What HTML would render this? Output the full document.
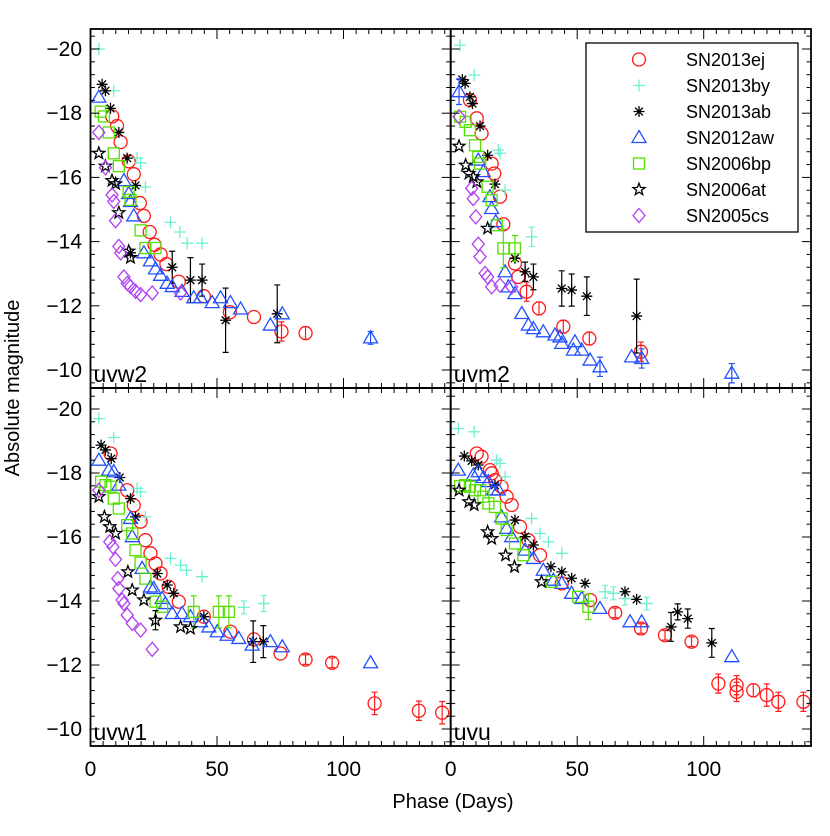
<!DOCTYPE html>
<html><head><meta charset="utf-8"><style>
html,body{margin:0;padding:0;background:#fff;}
svg{display:block;font-family:"Liberation Sans",sans-serif;}
</style></head><body>
<svg id="chart" width="830" height="836" viewBox="0 0 830 836" xmlns="http://www.w3.org/2000/svg"></svg>
<script>
// ---------- data: [phase day, absolute mag, error] ----------
const seriesNames = ["SN2013ej","SN2013by","SN2013ab","SN2012aw","SN2006bp","SN2006at","SN2005cs"];
const panelNames = ["uvw2","uvm2","uvw1","uvu"];
const xTicks = [0,50,100];
const xTickLabels = ["0","50","100"];
const yTicks = [-20,-18,-16,-14,-12,-10];
const yTickLabels = ["\u221220","\u221218","\u221216","\u221214","\u221212","\u221210"];

// uvw2
const w2_13ej = [[8.6,-17.9],[10.5,-17.6],[11.9,-17.1],[15.1,-16.5],[17.1,-16.1],[19.5,-15.2],[21.1,-14.8],[23.4,-14.3],[25.3,-13.9],[27.7,-13.6],[30,-13.3],[34.9,-12.75],[44.8,-12.3],[55.1,-11.8],[64.6,-11.65],[75.5,-11.2,0.3],[85,-11.15,0.2]];
const w2_13by = [[3.3,-20],[9.2,-18.7],[18.4,-16.6],[19.8,-16.45],[21.7,-15.7],[31.6,-14.6],[35.3,-14.3],[38.2,-13.95],[44.1,-13.95]];
const w2_13ab = [[4.6,-18.9],[5.9,-18.7],[7.9,-18.15],[11.2,-17.4],[14.5,-16.6],[17.8,-15.75],[15.8,-13.65],[32.3,-13.2,0.5],[39.5,-12.8,0.7],[44.1,-12.8,0.5],[53.4,-11.55,1.0],[73.8,-11.75,0.9]];
const w2_12aw = [[3.3,-18.5],[13.2,-15.9],[15.1,-15.5],[15.8,-15.25],[17.1,-14.8],[21.1,-13.65],[23.7,-13.4],[25.7,-13.15],[27.7,-12.95],[30.3,-12.7],[32.3,-12.6],[36.2,-12.45],[40.8,-12.25],[43.5,-12.25],[48.1,-12.1],[51.4,-12.25],[55.3,-12.1],[59.3,-11.9],[71.1,-11.4],[75.8,-11.75],[110.7,-11,0.2]];
const w2_06bp = [[4,-18.05],[5.3,-17.9],[7.2,-17.4],[9.2,-16.75],[11.2,-16.35],[15.1,-15.55],[15.8,-15.3],[19.8,-14.35],[21.7,-13.8],[25.7,-13.8]];
const w2_06at = [[3.3,-16.75],[5.9,-16.35],[8.5,-15.9],[9.9,-15.8],[11.2,-14.9],[15.1,-13.7],[15.8,-13.5]];
const w2_05cs = [[3.3,-17.4],[5.9,-16.3],[8.5,-15.45],[9.2,-15.25],[9.9,-14.65],[11.2,-13.85],[11.9,-13.65],[13.2,-12.9],[14.5,-12.7],[15.8,-12.6],[17.8,-12.45],[19.8,-12.35],[24.4,-12.4],[35.6,-12.4]];
// uvm2
const m2_13ej = [[7.6,-18.41],[10.3,-17.84],[12.2,-17.37],[16.2,-16.43],[17.2,-16.12],[19.5,-15.4],[20.8,-14.54],[25.4,-13.32],[26.7,-12.9],[30,-12.44,0.3],[34.9,-11.92,0.2],[44.5,-11.35,0.2],[54.8,-10.98,0.2],[75.2,-10.57,0.3]];
const m2_13by = [[3.7,-20.12],[9.3,-19.19],[18.8,-16.85],[19.5,-16.75],[21.5,-15.6],[32,-14.15,0.3]];
const m2_13ab = [[4.6,-19.05],[5.7,-18.93],[7.6,-18.51],[8.6,-18.3],[11.6,-17.6],[14.6,-16.69],[17.5,-15.79],[25.4,-13.48],[29.4,-13.06,0.3],[32.7,-12.9,0.4],[43.9,-12.54,0.55],[47.8,-12.49,0.5],[53.8,-12.3,0.6],[73.5,-11.68,1.15]];
const m2_12aw = [[3.3,-18.67,0.4],[10.9,-16.54],[12.9,-16.18],[15.5,-15.4],[16.2,-15.03],[17.8,-14.62],[21.5,-13.06],[22.8,-12.59],[25.4,-12.38],[28.1,-11.76],[30.7,-11.4],[32.7,-11.29],[36.6,-11.19],[41.2,-11.09],[43.2,-11.03],[43.9,-10.83],[48.5,-10.62],[49.1,-10.88],[51.8,-10.62],[55.1,-10.31],[59,-10.1,0.3],[71.5,-10.41],[75.5,-10.36,0.3],[111.1,-9.9,0.3]];
const m2_06bp = [[3.7,-17.89],[5.9,-17.73],[7.6,-17.47],[9.6,-17],[10.9,-16.64],[11.6,-16.43],[14.6,-15.71],[16.2,-15.29],[18.2,-14.51],[20.8,-13.79,0.6],[25.4,-13.79,0.4]];
const m2_06at = [[3.3,-16.97],[5.9,-16.38],[7.2,-16.12],[8.9,-16.02],[10.3,-15.86],[14.6,-14.41]];
const m2_05cs = [[3.3,-17.89],[8.3,-15.66],[8.9,-15.34],[9.9,-14.77],[10.9,-13.92],[11.6,-13.53],[13.6,-13.01],[14.6,-12.9],[16.2,-12.59],[19.5,-12.64],[24.1,-12.59]];
// uvw1
const w1_13ej = [[7.9,-18.61],[14.5,-17.46],[17.1,-16.99],[19.8,-16.48],[21.7,-15.9],[23.7,-15.49],[25.7,-15.17],[27.7,-14.86],[30.9,-14.44],[34.9,-13.98],[44.8,-13.51],[55.3,-13.04],[64.6,-12.8],[75.1,-12.36],[85,-12.17,0.15],[95.5,-12.07,0.15],[112.3,-10.8,0.35],[129.8,-10.57,0.3],[139,-10.51,0.35]];
const w1_13by = [[3.3,-19.7],[9.2,-19.11],[18.4,-17.52],[19.8,-17.41],[21.7,-16.63],[31.6,-15.33],[35.6,-15.12],[37.9,-14.96],[44.1,-14.76],[60.6,-13.8,0.2],[68.5,-13.92,0.25]];
const w1_13ab = [[4.2,-18.87],[5.9,-18.72],[8.2,-18.45],[11.6,-17.86],[15.8,-17.2],[17.8,-16.63],[26.4,-14.86],[30.3,-14.5],[32.9,-14.24],[44.8,-13.51],[64.3,-12.73,0.65],[68.3,-12.73,0.5]];
const w1_12aw = [[3.3,-18.4],[7.2,-18.09],[9.2,-18.04],[11.2,-17.62],[15.8,-16.58],[16.5,-16.01],[20.4,-15.02],[23.7,-14.44],[25,-14.39],[28.3,-14.08],[29.6,-13.92],[32.3,-13.61],[36.2,-13.61],[39.5,-13.51],[43.5,-13.35],[46.8,-13.19],[50.1,-13.04],[54,-12.93],[58.6,-12.83],[63.9,-12.62],[71.1,-12.73],[75.8,-12.57],[110.7,-12.07]];
const w1_06bp = [[4.2,-17.73],[5.9,-17.62],[7.9,-17.57],[9.2,-17.2],[11.2,-16.89],[14.5,-16.37],[16.5,-16.11],[17.8,-15.59],[19.8,-15.2],[21.7,-14.7],[25.7,-13.98],[28.3,-13.82],[40.8,-13.66,0.5],[50.7,-13.66,0.5],[54.7,-13.66,0.5]];
const w1_06at = [[3.3,-17.26],[5.5,-16.63],[7.6,-16.32],[9.9,-16.11],[14.8,-14.91],[16.5,-14.34],[21.1,-14.03],[25.7,-13.4,0.3],[35.6,-13.19],[39.5,-13.14]];
const w1_05cs = [[3.3,-17.46],[7.6,-15.85],[8.9,-15.69],[9.9,-15.3],[10.8,-14.7],[11.2,-14.39],[12.5,-14.03],[13.2,-13.92],[14.5,-13.56],[16.5,-13.3],[19.8,-13.09],[24.4,-12.49]];
// uvu
const u_13ej = [[10.3,-18.61],[12.2,-18.51],[15.5,-18.09],[16.2,-17.99],[17.5,-17.78],[20.1,-17.57],[22.1,-17.26],[24.1,-17],[27.4,-16.32],[30.7,-15.9],[35.3,-15.43],[43.9,-14.55],[55.1,-14.03],[65,-13.63,0.15],[75.2,-13.14,0.15],[84.7,-12.93,0.15],[95.2,-12.73,0.15],[105.8,-11.42,0.3],[113,-11.37,0.3],[113,-11.16,0.3],[119.6,-11.21,0.2],[124.9,-11.06,0.35],[129.5,-10.85,0.3],[139.4,-10.85,0.3]];
const u_13by = [[3,-19.39],[9.3,-19.29],[18.2,-18.4],[19.5,-18.3],[21.5,-17.88],[32,-16.58],[35.3,-16.11],[38.6,-15.85],[43.9,-15.49],[61,-14.29,0.2],[64.3,-14.24,0.2],[68.9,-14.08,0.2],[77.5,-13.92,0.2]];
const u_13ab = [[5.4,-18.53],[8.3,-18.38],[10.9,-18.25],[17.5,-17.62],[25.4,-16.53],[29.4,-16.01],[32.7,-15.75],[39.6,-15.07],[43.9,-14.91],[47.8,-14.71],[53.1,-14.55],[68.9,-14.29],[73.5,-14.05],[87.1,-13.19,0.45],[89.7,-13.66,0.25],[93.7,-13.45,0.3],[103.2,-12.69,0.45]];
const u_12aw = [[3,-18.09],[8.9,-17.93],[10.9,-18.04],[12.9,-17.86],[14.9,-17.73],[16.9,-17.47],[18.8,-17.47],[20.1,-16.63],[22.1,-16.27],[24.1,-16.01],[29.4,-15.59],[32.7,-15.33],[36.6,-14.96],[40.6,-14.65],[43.9,-14.55],[47.8,-14.24],[51.8,-14.08],[59,-13.77],[70.9,-13.35],[75.5,-13.35],[111.1,-12.26]];
const u_06bp = [[3.7,-17.59],[5.7,-17.62],[7.6,-17.57],[9.6,-17.46],[11.6,-17.46],[12.9,-17.26],[14.9,-17.05],[17.5,-16.94],[20.1,-16.58],[22.1,-16.22],[25.4,-15.8],[28.7,-15.43],[39.9,-14.6],[50.4,-14.13],[54.4,-13.82,0.4]];
const u_06at = [[3.3,-17.46],[7.2,-17.1],[9.3,-17],[14.6,-16.16],[16.2,-15.95],[21.7,-15.43],[25.2,-15.07],[35.9,-14.6]];

const panelData = [
  [w2_13ej,w2_13by,w2_13ab,w2_12aw,w2_06bp,w2_06at,w2_05cs],
  [m2_13ej,m2_13by,m2_13ab,m2_12aw,m2_06bp,m2_06at,m2_05cs],
  [w1_13ej,w1_13by,w1_13ab,w1_12aw,w1_06bp,w1_06at,w1_05cs],
  [u_13ej,u_13by,u_13ab,u_12aw,u_06bp,u_06at,[]]
];

// ---------- layout ----------
const NS="http://www.w3.org/2000/svg";
const svg=document.getElementById('chart');
const colors=["#ff1a1a","#6ff0d0","#000000","#2250ff","#55e000","#000000","#b040f0"];
const panels=[
  {x0:90.5,x1:450.7,y0:29,y1:388,yA:49,sy:32.1},
  {x0:450.7,x1:811,y0:29,y1:388,yA:49,sy:32.1},
  {x0:90.5,x1:450.7,y0:388,y1:746,yA:409,sy:32.0},
  {x0:450.7,x1:811,y0:388,y1:746,yA:409,sy:32.0}
];
const SX=2.53;
function mk(tag,attrs,parent){const e=document.createElementNS(NS,tag);for(const k in attrs)e.setAttribute(k,attrs[k]);(parent||svg).appendChild(e);return e;}

function drawMarker(g,s,cx,cy){
  const c=colors[s];
  const st={fill:"none",stroke:c,"stroke-width":1.3};
  let el;
  if(s===0){el=mk('circle',Object.assign({cx:cx,cy:cy,r:6.5},st),g);}
  else if(s===1){el=mk('path',Object.assign({d:`M${cx-6},${cy}H${cx+6}M${cx},${cy-6}V${cy+6}`},st),g);}
  else if(s===2){let d='';for(let i=0;i<4;i++){const a=i*Math.PI/4;const dx=5.5*Math.cos(a),dy=5.5*Math.sin(a);d+=`M${cx-dx},${cy-dy}L${cx+dx},${cy+dy}`;}el=mk('path',Object.assign({d:d},st),g);}
  else if(s===3){el=mk('path',Object.assign({d:`M${cx},${cy-7}L${cx+7},${cy+5}L${cx-7},${cy+5}Z`},st),g);}
  else if(s===4){el=mk('rect',Object.assign({x:cx-5.5,y:cy-5.5,width:11,height:11},st),g);}
  else if(s===5){let d='';for(let i=0;i<10;i++){const r=i%2?2.6:6.3;const a=-Math.PI/2+i*Math.PI/5;d+=(i?'L':'M')+(cx+r*Math.cos(a)).toFixed(1)+','+(cy+r*Math.sin(a)).toFixed(1);}el=mk('path',Object.assign({d:d+'Z'},st),g);}
  else {el=mk('path',Object.assign({d:`M${cx},${cy-7}L${cx+6},${cy}L${cx},${cy+7}L${cx-6},${cy}Z`},st),g);}
  return el;
}

const defs=mk('defs',{});
panels.forEach((p,pi)=>{
  const cp=mk('clipPath',{id:'clip'+pi},defs);
  mk('rect',{x:p.x0,y:p.y0,width:p.x1-p.x0,height:p.y1-p.y0},cp);
});

panels.forEach((p,pi)=>{
  const xs=d=>p.x0+d*SX;
  const ys=m=>p.yA+(m+20)*p.sy;
  const g=mk('g',{'clip-path':`url(#clip${pi})`});
  
  
  const tk=mk('g',{stroke:"#000","stroke-width":1});
  
  
  for(let d=0;d<=145;d+=5){const x=xs(d);if(x>p.x1)break;const L=(d%50===0)?10:5;
    mk('line',{x1:x,y1:p.y1,x2:x,y2:p.y1-L},tk);mk('line',{x1:x,y1:p.y0,x2:x,y2:p.y0+L},tk);}
  for(let k=0;k<=30;k++){const m=-20.8+k*0.4;const mm=Math.round(m*10)/10;const y=ys(mm);if(y<p.y0||y>p.y1)continue;const major=Math.abs(mm%2)<0.01;const L=major?9:4.5;
    mk('line',{x1:p.x0,y1:y,x2:p.x0+L,y2:y},tk);mk('line',{x1:p.x1,y1:y,x2:p.x1-L,y2:y},tk);}
  panelData[pi].forEach((arr,s)=>{
    const sg=mk('g',{},g);
    
    
    arr.forEach(pt=>{
      const cx=xs(pt[0]),cy=ys(pt[1]);
      if(pt[2]){const e=pt[2]*p.sy;mk('path',{d:`M${cx},${cy-e}V${cy+e}M${cx-3},${cy-e}H${cx+3}M${cx-3},${cy+e}H${cx+3}`,stroke:s===5?"#000":colors[s],"stroke-width":1.2,fill:"none"},sg);}
      const mkr=drawMarker(sg,s,cx,cy);
      
      
    });
  });
  const fr=mk('rect',{x:p.x0,y:p.y0,width:p.x1-p.x0,height:p.y1-p.y0,fill:"none",stroke:"#000","stroke-width":1.8});
  
  
  const bl=mk('text',{x:p.x0+3,y:p.y1-6,"font-size":23});
  bl.textContent=panelNames[pi];
  
  
  if(pi%2===0){
    yTicks.forEach((v,i)=>{const t=mk('text',{x:82,y:ys(v)+7,"font-size":21,"text-anchor":"end"});t.textContent=yTickLabels[i];
      
      });
  }
  if(pi>=2){
    xTicks.forEach((v,i)=>{const t=mk('text',{x:xs(v),y:776,"font-size":21,"text-anchor":"middle"});t.textContent=xTickLabels[i];
      
      });
  }
});

const yt=mk('text',{x:0,y:0,"font-size":20,"text-anchor":"middle",transform:"translate(19,388) rotate(-90)"});
yt.textContent="Absolute magnitude";


const xt=mk('text',{x:453,y:808,"font-size":20,"text-anchor":"middle"});
xt.textContent="Phase (Days)";



const lg=mk('g',{});


mk('rect',{x:586,y:43,width:212,height:189,fill:"#fff",stroke:"#000","stroke-width":1.3},lg);
seriesNames.forEach((n,s)=>{
  const y=59.5+s*26;
  const eg=mk('g',{},lg);
  
  
  drawMarker(eg,s,639,y);
  const t=mk('text',{x:686,y:y+6.5,"font-size":18},eg);t.textContent=n;
});
</script>
</body></html>
